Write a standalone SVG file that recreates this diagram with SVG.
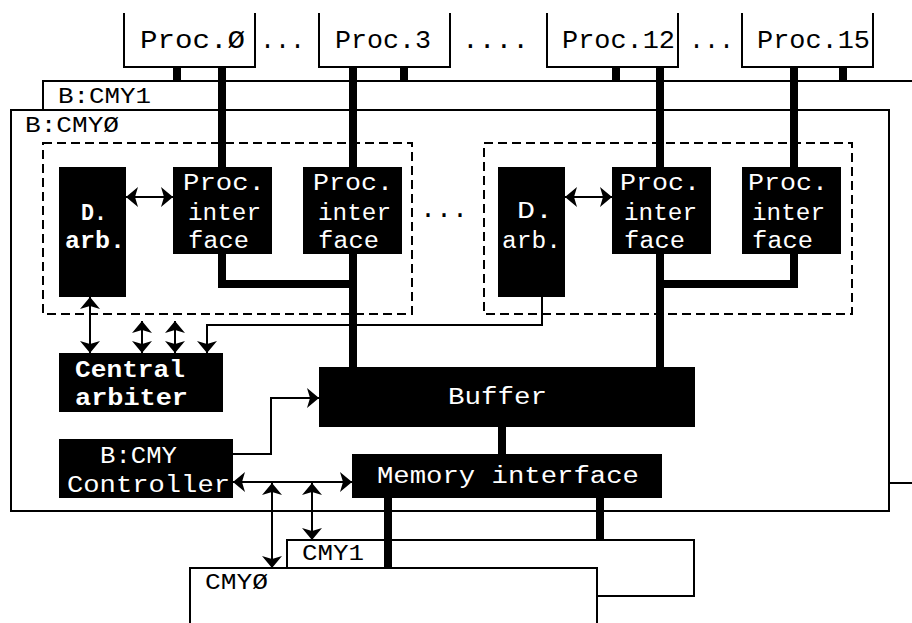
<svg xmlns="http://www.w3.org/2000/svg" width="912" height="623" viewBox="0 0 912 623">
<style>
.bx{fill:#fff;stroke:#000;stroke-width:2}
.blk{fill:#000;stroke:none}
.dash{fill:none;stroke:#000;stroke-width:2;stroke-dasharray:9 5}
.ln{fill:none;stroke:#000;stroke-width:2}
.thk{fill:none;stroke:#000;stroke-width:8}
.t{font-family:"Liberation Mono","DejaVu Sans Mono",monospace;fill:#000}
.w{fill:#fff}
.b{font-weight:bold}
.s25{font-size:25px}
.s23{font-size:23px}
.s22{font-size:22px}
</style>
<defs>
<marker id="ah" markerUnits="userSpaceOnUse" viewBox="0 0 12 20" markerWidth="12" markerHeight="20" refX="12" refY="10" orient="auto-start-reverse">
<path d="M0,0 L12,10 L0,20 L3,10 z" fill="#000"/>
</marker>
</defs>
<rect width="912" height="623" fill="#fff"/>

<g id="bus-cmy1">
<rect class="bx" x="43" y="81" width="900" height="402"/>
<text class="t s22" x="58" y="103" textLength="93" lengthAdjust="spacingAndGlyphs">B:CMY1</text>
</g>
<g id="bus-cmy0">
<rect class="bx" x="11" y="110" width="878" height="401"/>
<text class="t s22" x="25" y="132" textLength="94" lengthAdjust="spacingAndGlyphs">B:CMYØ</text>
</g>

<g id="proc0">
<path class="ln" d="M124,13 V67 H255 V13"/>
<text class="t s25" x="140" y="48" textLength="105" lengthAdjust="spacingAndGlyphs">Proc.Ø</text>
</g>
<g id="ellipsis-1"><text class="t s25" x="260" y="48" textLength="45" lengthAdjust="spacingAndGlyphs">...</text></g>
<g id="proc3">
<path class="ln" d="M319,13 V67 H450 V13"/>
<text class="t s25" x="335" y="48" textLength="96" lengthAdjust="spacingAndGlyphs">Proc.3</text>
</g>
<g id="ellipsis-2"><text class="t s25" x="462" y="48" textLength="67" lengthAdjust="spacingAndGlyphs">....</text></g>
<g id="proc12">
<path class="ln" d="M547,13 V67 H678 V13"/>
<text class="t s25" x="562" y="48" textLength="113" lengthAdjust="spacingAndGlyphs">Proc.12</text>
</g>
<g id="ellipsis-3"><text class="t s25" x="689" y="48" textLength="45" lengthAdjust="spacingAndGlyphs">...</text></g>
<g id="proc15">
<path class="ln" d="M742,13 V67 H873 V13"/>
<text class="t s25" x="757" y="48" textLength="113" lengthAdjust="spacingAndGlyphs">Proc.15</text>
</g>

<g id="cluster-left"><rect class="dash" x="43" y="143" width="369" height="171"/></g>
<g id="cluster-right"><rect class="dash" x="484" y="143" width="368" height="171"/></g>
<g id="ellipsis-4"><text class="t s25" x="420" y="217" textLength="48" lengthAdjust="spacingAndGlyphs">...</text></g>

<g id="darb-left">
<rect class="blk" x="59" y="167" width="67" height="130"/>
<text class="t w b s23" x="81" y="220" textLength="26" lengthAdjust="spacingAndGlyphs">D.</text>
<text class="t w b s23" x="65" y="248" textLength="60" lengthAdjust="spacingAndGlyphs">arb.</text>
</g>
<g id="pif1">
<rect class="blk" x="173" y="167" width="99" height="87"/>
<text class="t w s23" x="183" y="190" textLength="82" lengthAdjust="spacingAndGlyphs">Proc.</text>
<text class="t w s23" x="188" y="220" textLength="73" lengthAdjust="spacingAndGlyphs">inter</text>
<text class="t w s23" x="188" y="248" textLength="61" lengthAdjust="spacingAndGlyphs">face</text>
</g>
<g id="pif2">
<rect class="blk" x="303" y="167" width="99" height="87"/>
<text class="t w s23" x="313" y="190" textLength="80" lengthAdjust="spacingAndGlyphs">Proc.</text>
<text class="t w s23" x="318" y="220" textLength="73" lengthAdjust="spacingAndGlyphs">inter</text>
<text class="t w s23" x="318" y="248" textLength="61" lengthAdjust="spacingAndGlyphs">face</text>
</g>
<g id="darb-right">
<rect class="blk" x="498" y="167" width="67" height="130"/>
<text class="t w s23" x="517" y="218" textLength="36" lengthAdjust="spacingAndGlyphs">D.</text>
<text class="t w s23" x="502" y="248" textLength="59" lengthAdjust="spacingAndGlyphs">arb.</text>
</g>
<g id="pif3">
<rect class="blk" x="612" y="167" width="99" height="87"/>
<text class="t w s23" x="620" y="190" textLength="80" lengthAdjust="spacingAndGlyphs">Proc.</text>
<text class="t w s23" x="624" y="220" textLength="73" lengthAdjust="spacingAndGlyphs">inter</text>
<text class="t w s23" x="624" y="248" textLength="61" lengthAdjust="spacingAndGlyphs">face</text>
</g>
<g id="pif4">
<rect class="blk" x="742" y="167" width="99" height="87"/>
<text class="t w s23" x="748" y="190" textLength="80" lengthAdjust="spacingAndGlyphs">Proc.</text>
<text class="t w s23" x="752" y="220" textLength="73" lengthAdjust="spacingAndGlyphs">inter</text>
<text class="t w s23" x="752" y="248" textLength="61" lengthAdjust="spacingAndGlyphs">face</text>
</g>

<g id="central-arbiter">
<rect class="blk" x="59" y="353" width="164" height="59"/>
<text class="t w b s23" x="75" y="377" textLength="110" lengthAdjust="spacingAndGlyphs">Central</text>
<text class="t w b s23" x="75" y="405" textLength="113" lengthAdjust="spacingAndGlyphs">arbiter</text>
</g>
<g id="buffer">
<rect class="blk" x="319" y="367" width="376" height="60"/>
<text class="t w s23" x="448" y="404" textLength="99" lengthAdjust="spacingAndGlyphs">Buffer</text>
</g>
<g id="controller">
<rect class="blk" x="59" y="439" width="174" height="59"/>
<text class="t w s23" x="100" y="463" textLength="77" lengthAdjust="spacingAndGlyphs">B:CMY</text>
<text class="t w s23" x="67" y="492" textLength="163" lengthAdjust="spacingAndGlyphs">Controller</text>
</g>
<g id="memory-interface">
<rect class="blk" x="352" y="454" width="310" height="44"/>
<text class="t w s23" x="377" y="483" textLength="262" lengthAdjust="spacingAndGlyphs">Memory interface</text>
</g>

<g id="cmy1">
<rect class="bx" x="287" y="540" width="407" height="56"/>
<text class="t s22" x="302" y="560" textLength="62" lengthAdjust="spacingAndGlyphs">CMY1</text>
</g>
<g id="cmy0">
<rect class="bx" x="190" y="568" width="407" height="70"/>
<text class="t s22" x="205" y="589" textLength="63" lengthAdjust="spacingAndGlyphs">CMYØ</text>
</g>

<g id="connectors">
<path class="thk" d="M177,67 V81 M404,67 V81 M616,67 V81 M843,67 V81"/>
<path class="thk" d="M222,67 V167 M353,67 V167 M660,67 V167 M794,67 V167"/>
<path class="thk" d="M222,254 V284 H357 M353,254 V367"/>
<path class="thk" d="M660,254 V367 M794,254 V284 H656"/>
<path class="thk" d="M502,427 V454"/>
<path class="thk" d="M388,498 V568 M600,498 V540"/>
<line class="ln" x1="126" y1="197" x2="173" y2="197" marker-start="url(#ah)" marker-end="url(#ah)"/>
<line class="ln" x1="565" y1="197" x2="612" y2="197" marker-start="url(#ah)" marker-end="url(#ah)"/>
<line class="ln" x1="90" y1="297" x2="90" y2="353" marker-start="url(#ah)" marker-end="url(#ah)"/>
<line class="ln" x1="142" y1="321" x2="142" y2="353" marker-start="url(#ah)" marker-end="url(#ah)"/>
<line class="ln" x1="175" y1="321" x2="175" y2="353" marker-start="url(#ah)" marker-end="url(#ah)"/>
<polyline class="ln" points="542,297 542,325 207,325 207,353" marker-end="url(#ah)"/>
<polyline class="ln" points="233,454 271,454 271,398 319,398" marker-end="url(#ah)"/>
<line class="ln" x1="233" y1="482" x2="352" y2="482" marker-start="url(#ah)" marker-end="url(#ah)"/>
<line class="ln" x1="272" y1="483" x2="272" y2="568" marker-start="url(#ah)" marker-end="url(#ah)"/>
<line class="ln" x1="312" y1="483" x2="312" y2="540" marker-start="url(#ah)" marker-end="url(#ah)"/>
</g>
</svg>
